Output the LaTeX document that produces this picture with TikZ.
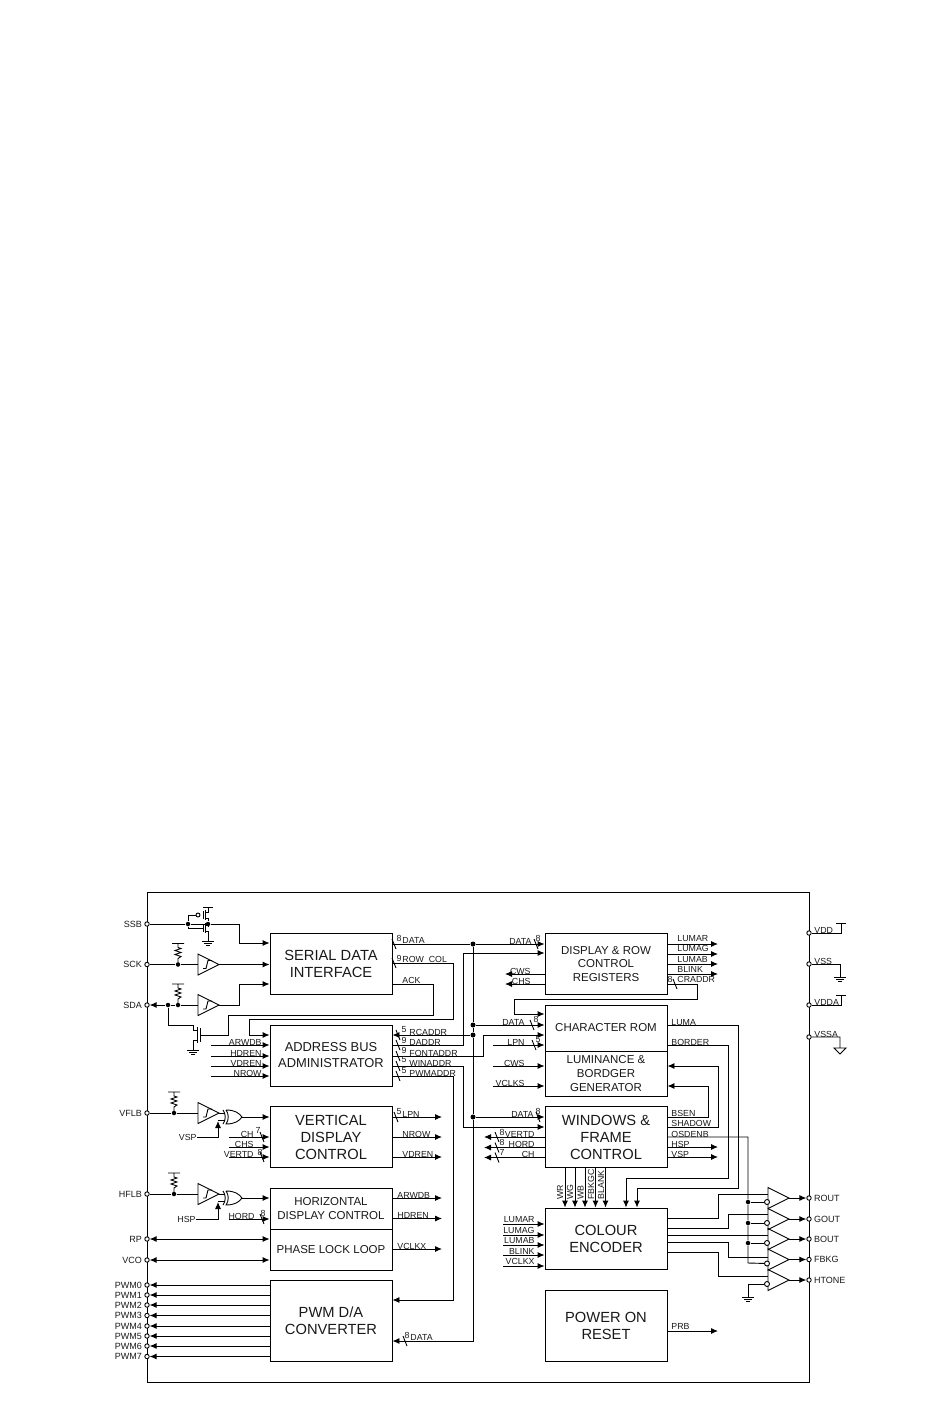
\documentclass[tikz,border=0pt]{standalone}
\usepackage{fontspec}
\setmainfont{Liberation Sans}
\usetikzlibrary{arrows.meta,positioning}

\newcommand\pullup[2]{% x, y of the dot
  \draw (#1-6,#2-21) -- (#1+6,#2-21) (#1,#2-21) -- (#1,#2-17) -- (#1+3,#2-16) -- (#1-3,#2-14)
    -- (#1+3,#2-12) -- (#1-3,#2-10) -- (#1+3,#2-8) -- (#1,#2-6) -- (#1,#2);}
\newcommand\schmitt[1]{% y of the tip, x fixed
  \draw (198,#1-10.5) -- (198,#1+10.5) -- (219,#1) -- cycle;
  \draw (203,#1+4) -- (206,#1+4) -- (208,#1-4) -- (212,#1-4);}
\newcommand\xorgate[1]{% y of the output
  \draw (226,#1-7) .. controls (235,#1-7) and (239,#1-4) .. (242,#1) .. controls (239,#1+4) and (235,#1+7) .. (226,#1+7)
    .. controls (229,#1+3) and (229,#1-3) .. (226,#1-7);
  \draw (223,#1-7) .. controls (226,#1-3) and (226,#1+3) .. (223,#1+7);}
\newcommand\earth[2]{% x, y of the top bar
  \draw (#1-6,#2) -- (#1+6,#2) (#1-4,#2+2) -- (#1+4,#2+2) (#1-2,#2+4) -- (#1+2,#2+4);}
\newcommand\busmark[2]{\draw (#1-2,#2-5) -- (#1+2,#2+5);}

\begin{document}
\begin{tikzpicture}[
          x=1pt, y=-1pt,
          line width=0.9pt,
          every node/.style={inner sep=0pt, text=black!90},
          block/.style={draw, line width=0.9pt, align=center, minimum width=122pt},
          bigtext/.style={font=\fontsize{14.7}{17}\selectfont},
          midtext/.style={font=\fontsize{11.5}{13.6}\selectfont},
          port/.style={draw, circle, fill=white, minimum size=4.4pt, line width=0.9pt},
          dot/.style={fill=black, circle, minimum size=5pt},
          pintag/.style={font=\fontsize{9}{9}\selectfont},
          tagl/.style={font=\fontsize{8.8}{9}\selectfont, anchor=base west},
          tagr/.style={font=\fontsize{8.8}{9}\selectfont, anchor=base east},
          tagv/.style={font=\fontsize{8.8}{9}\selectfont, rotate=90, anchor=base west},
          numtag/.style={font=\fontsize{8.8}{9}\selectfont, anchor=center},
          >={Latex[length=7pt,width=6pt]},
        ]
        \useasboundingbox (0,0) rectangle (950,1420) ;
        \draw[line width=0.9pt] (147,892) rectangle (809,1382) ;

        % blocks
        \node[block, bigtext, minimum height=61pt] at (331,964) (serial) {SERIAL DATA\\INTERFACE} ;
        \node[block, font=\fontsize{12.9}{16}\selectfont, minimum height=61pt] at (331,1055.5) (address) {ADDRESS BUS\\ADMINISTRATOR} ;
        \node[block, bigtext, minimum height=61pt] at (331,1137) (vertical) {VERTICAL\\DISPLAY\\CONTROL} ;
        \node[block, midtext, minimum height=41pt] at (331,1208.5) (horizontal) {HORIZONTAL\\DISPLAY CONTROL} ;
        \node[block, midtext, minimum height=41pt] at (331,1249.5) (pll) {PHASE LOCK LOOP} ;
        \node[block, bigtext, minimum height=81pt] at (331,1320.5) (pwm) {PWM D/A\\CONVERTER} ;
        \node[block, midtext, minimum height=61pt] at (606,964) (regs) {DISPLAY \& ROW\\CONTROL\\REGISTERS} ;
        \node[block, midtext, minimum height=46pt] at (606,1028) (rom) {CHARACTER ROM} ;
        \node[block, midtext, minimum height=45pt] at (606,1073.5) (lum) {LUMINANCE \&\\BORDGER\\GENERATOR} ;
        \node[block, bigtext, minimum height=61pt] at (606,1137) (windows) {WINDOWS \&\\FRAME\\CONTROL} ;
        \node[block, bigtext, minimum height=61pt] at (606,1238.5) (colour) {COLOUR\\ENCODER} ;
        \node[block, bigtext, minimum height=71pt] at (606,1325.5) (reset) {POWER ON\\RESET} ;

        % left pins
        \foreach \n/\t/\y in {ssb/SSB/924,sck/SCK/964.5,sda/SDA/1005,vflb/VFLB/1113,hflb/HFLB/1194,rp/RP/1239,vco/VCO/1260,
            pwmz/PWM0/1285,pwma/PWM1/1295,pwmb/PWM2/1305,pwmc/PWM3/1315.5,pwmd/PWM4/1326,pwme/PWM5/1336,pwmf/PWM6/1346,pwmg/PWM7/1356.5} {
          \node[port] at (147,\y) (\n) {} ;
          \node[pintag, left=2pt of \n] (\n-t) {\t} ;
        }
        % right pins
        \foreach \n/\t/\y in {rout/ROUT/1198,gout/GOUT/1219,bout/BOUT/1239,fbkg/FBKG/1259.5,htone/HTONE/1280} {
          \node[port] at (809,\y) (\n) {} ;
          \node[pintag, right=2pt of \n] (\n-t) {\t} ;
        }
        \foreach \n/\y in {vdd/933,vss/964,vdda/1005,vssa/1037} {
          \node[port] at (809,\y) (\n) {} ;
        }
        \foreach \n/\t/\y in {vdd-t/VDD/933,vss-t/VSS/964,vdda-t/VDDA/1005,vssa-t/VSSA/1037} {
          \node[tagl] at (814,\y) (\n) {\t} ;
        }
        \draw (vdd) -- (841,933) -- (841,923) (836,923) -- (846,923) ;
        \draw (vss) -- (840,964) -- (840,977) ; \earth{840}{977}
        \draw (vdda) -- (841,1005) -- (841,995) (836,995) -- (846,995) ;
        \draw (vssa) -- (840,1037) -- (840,1048) (834,1048) -- (846,1048) -- (840,1054) -- cycle ;

        % SSB switch
        \node[dot, minimum size=4.5pt] at (188,924) (ssba) {} ;
        \node[dot, minimum size=4.5pt] at (208,924) (ssbb) {} ;
        \draw (ssb) -- (ssba) -- (ssbb) -- (239,924) -- (239,943) ;
        \draw[->] (239,943) -- (serial.west |- 0,943) ;
        \node[port, minimum size=4pt] at (198,915) (ssbc) {} ;
        \draw (ssba) -- (188,915) -- (ssbc) (203,911) -- (203,919) (205.5,910) -- (205.5,920) ;
        \draw (203,907) -- (213,907) (208,907) -- (208,912) -- (205.5,912) (205.5,918) -- (208,918) -- (ssbb) ;
        \draw (ssba) -- (188,928) -- (203,928) (203,924) -- (203,932) (205.5,923) -- (205.5,933) ;
        \draw (ssbb) -- (208,925) -- (205.5,925) (205.5,931) -- (208,931) -- (208,941) ; \earth{208}{941}

        % SCK and SDA
        \node[dot, minimum size=4.5pt] at (178,964.5) (scka) {} ;
        \pullup{178}{964.5} \schmitt{964.5}
        \draw (sck) -- (scka) -- (198,964.5) ;
        \draw[->] (219,964.5) -- (serial.west |- 0,964.5) ;
        \node[dot, minimum size=4.5pt] at (168,1005) (sdaa) {} ;
        \node[dot, minimum size=4.5pt] at (178,1005) (sdab) {} ;
        \pullup{178}{1005} \schmitt{1005}
        \draw[->] (sdaa) -- (sda) ;
        \draw (sdaa) -- (sdab) -- (198,1005) ;
        \draw[->] (219,1005) -- (239,1005) -- (239,984) -- (serial.west |- 0,984) ;
        \draw (sdaa) -- (168,1025) -- (193,1025) -- (193,1030) -- (197,1030) (197,1027) -- (197,1043)
              (197,1040) -- (193,1040) -- (193,1050) (200,1028) -- (200,1042) ;
        \earth{193}{1050}
        \draw (200,1035) -- (228,1035) -- (228,1015) -- (433,1015) -- (433,984) -- (serial.east |- 0,984) ;
        \draw[->] (serial.east |- 0,963) -- (453,963) -- (453,1019) -- (249,1019) -- (249,1035) -- (address.west |- 0,1035) ;

        % VFLB and HFLB
        \foreach \n/\y/\yo in {vflb/1113/1117,hflb/1194/1198} {
          \node[dot, minimum size=4.5pt] at (174,\y) (\n-a) {} ;
          \pullup{174}{\y} \schmitt{\y} \xorgate{\yo}
          \draw (\n) -- (\n-a) -- (198,\y) (219,\y) -- (225,\y) (225,\yo+3.5) -- (218,\yo+3.5) ;
          \draw[->] (242,\yo) -- (vertical.west |- 0,\yo) ;
        }
        \node[tagr, anchor=east] at (197,1137) (vsp-t) {VSP} ;
        \node[tagr, anchor=east] at (196,1219) (hsp-t) {HSP} ;
        \draw[->] (vsp-t) -- (218,1137) -- (218,1121) ;
        \draw[->] (hsp-t) -- (218,1219) -- (218,1202) ;

        % stubs going into blocks from the left
        \foreach \n/\t/\b/\xa/\xt/\y/\yt in {
            arw/ARWDB/address/211/262/1045/1045, hdr/HDREN/address/211/262/1056/1056, vdr/VDREN/address/211/262/1066/1066, nrw/NROW/address/211/262/1076/1076,
            chv/CH/vertical/229/254/1137/1137, chs/CHS/vertical/229/254/1147/1147, vtd/VERTD/vertical/229/254/1157/1157,
            hrd/HORD/horizontal/229/255/1219/1219,
            lpnb/LPN/rom/493/525/1045/1045, cwsb/CWS/lum/493/525/1066/1066, vcl/VCLKS/lum/493/525/1086/1086,
            lmr/LUMAR/colour/503/535/1224/1222.5, lmg/LUMAG/colour/503/535/1235/1233.5, lmb/LUMAB/colour/503/535/1245/1243.5,
            blk/BLINK/colour/503/535/1255/1254, vcx/VCLKX/colour/503/535/1266/1264.5} {
          \coordinate (\n-s) at (\xa,\y) ;
          \node[tagr] at (\xt,\yt) (\n-t) {\t} ;
          \draw[->] (\n-s) -- (\b.west |- 0,\y) ;
        }

        % stubs coming out of blocks to the right
        \foreach \n/\t/\b/\xt/\xe/\y/\yt in {
            lpnv/LPN/vertical/402/442/1117/1117, nrv/NROW/vertical/402/442/1137/1137, vdv/VDREN/vertical/402/442/1157/1157,
            arv/ARWDB/horizontal/397/442/1198/1198, hdv/HDREN/horizontal/397/442/1218.5/1218.5, vkv/VCLKX/pll/397/442/1249/1249,
            lur/LUMAR/regs/677/718/944/941.5, lug/LUMAG/regs/677/718/954/951.5, lub/LUMAB/regs/677/718/964/962, bln/BLINK/regs/677/718/974/972,
            hsw/HSP/windows/671/718/1147/1147, vsw/VSP/windows/671/718/1157/1157, prb/PRB/reset/671/718/1331/1329} {
          \coordinate (\n-e) at (\xe,\y) ;
          \node[tagl] at (\xt,\yt) (\n-t) {\t} ;
          \draw[->] (\b.east |- 0,\y) -- (\n-e) ;
        }

        % stubs coming out of blocks to the left
        \foreach \n/\t/\b/\xt/\xe/\y in {
            cwr/CWS/regs/531/505/974, chr/CHS/regs/531/505/984,
            vtw/VERTD/windows/535/484/1137, hrw/HORD/windows/535/484/1147.5, chw/CH/windows/535/484/1157.5} {
          \coordinate (\n-e) at (\xe,\y) ;
          \node[tagr] at (\xt,\y) (\n-t) {\t} ;
          \draw[->] (\b.west |- 0,\y) -- (\n-e) ;
        }

        % RP, VCO and PWM pins
        \foreach \n/\b/\y in {rp/pll/1239,vco/pll/1260} {
          \draw[<->] (\n) -- (\b.west |- 0,\y) ;
        }
        \foreach \n/\y in {pwmz/1285,pwma/1295,pwmb/1305,pwmc/1315.5,pwmd/1326,pwme/1336,pwmf/1346,pwmg/1356.5} {
          \draw[->] (pwm.west |- 0,\y) -- (\n) ;
        }

        % data bus
        \foreach \n/\y in {ja/944,jb/1025,jc/1035,jd/1117} {
          \node[dot] at (473,\y) (\n) {} ;
        }
        \draw[->] (serial.east |- 0,944) -- (ja) -- (regs.west |- 0,944) ;
        \draw[->] (ja) -- (jb) -- (jc) -- (jd) -- (473,1341) -- (pwm.east |- 0,1341) ;
        \draw[->] (jb) -- (rom.west |- 0,1025) ;
        \draw[->] (jd) -- (windows.west |- 0,1117) ;
        \draw[<-] (address.east |- 0,1035) -- (jc) ;
        \draw[->] (address.east |- 0,1045) -- (463,1045) -- (463,953) -- (regs.west |- 0,953) ;
        \draw[->] (address.east |- 0,1056) -- (483,1056) -- (483,1035) -- (rom.west |- 0,1035) ;
        \draw[->] (address.east |- 0,1066) -- (463,1066) -- (463,1127) -- (windows.west |- 0,1127) ;
        \draw[->] (address.east |- 0,1076) -- (453,1076) -- (453,1300) -- (pwm.east |- 0,1300) ;

        % right hand feedback wires
        \draw[->] (regs.east |- 0,984) -- (697,984) -- (697,999) -- (514,999) -- (514,1014) -- (rom.west |- 0,1014) ;
        \draw[->] (rom.east |- 0,1025) -- (738,1025) -- (738,1188) -- (637,1188) -- (colour.north -| 637,0) ;
        \draw[->] (rom.east |- 0,1045) -- (728,1045) -- (728,1178) -- (626,1178) -- (colour.north -| 626,0) ;
        \draw[->] (windows.east |- 0,1117) -- (708,1117) -- (708,1086) -- (lum.east |- 0,1086) ;
        \draw[->] (windows.east |- 0,1127) -- (718,1127) -- (718,1066) -- (lum.east |- 0,1066) ;

        % windows to colour encoder
        \foreach \n/\t/\x/\xt in {wr/WR/565/563,wg/WG/575/573,wb/WB/585/583.5,fb/FBKGC/595.5/594,bl/BLANK/605.5/604} {
          \node[tagv] at (\xt,1200) (\n-t) {\t} ;
          \draw[->] (windows.south -| \x,0) -- (colour.north -| \x,0) ;
        }

        % output buffers
        \foreach \n/\m/\y in {ba/rout/1198,bb/gout/1219,bc/bout/1239,bd/fbkg/1259.5,be/htone/1280} {
          \coordinate (\n) at (768,\y) ;
          \draw (768,\y-10.5) -- (768,\y+10.5) -- (789,\y) -- cycle ;
          \node[port, minimum size=5pt] at (767,\y+4) (\n-c) {} ;
          \draw[->] (789,\y) -- (\m) ;
        }
        \foreach \n/\y in {da/1202,db/1223,dc/1243} {
          \node[dot, minimum size=4.5pt] at (748,\y) (\n) {} ;
        }
        \draw (windows.east |- 0,1137) -- (748,1137) -- (da) -- (db) -- (dc) -- (748,1263) -- (bd-c) ;
        \draw (da) -- (ba-c) (db) -- (bb-c) (dc) -- (bc-c) ;
        \draw (be-c) -- (748,1284) -- (748,1297) ; \earth{748}{1297}
        \draw (colour.east |- 0,1218) -- (718,1218) -- (718,1194) -- (768,1194) ;
        \draw (colour.east |- 0,1228) -- (728,1228) -- (728,1214) -- (768,1214) ;
        \draw (colour.east |- 0,1235) -- (768,1235) ;
        \draw (colour.east |- 0,1242) -- (728,1242) -- (728,1257) -- (768,1257) ;
        \draw (colour.east |- 0,1252) -- (718,1252) -- (718,1276) -- (768,1276) ;

        % free labels
        \foreach \n/\t/\x/\y in {
            tdata/DATA/402/943, trow/ROW\_COL/402/962, tack/ACK/402/983,
            trc/RCADDR/409/1035, tda/DADDR/409/1045, tfo/FONTADDR/409/1056, twi/WINADDR/409/1066, tpw/PWMADDR/409/1076,
            tcr/CRADDR/677/982.5, tlu/LUMA/671/1025, tbo/BORDER/671/1045,
            tbs/BSEN/671/1116, tsh/SHADOW/671/1126.5, tos/OSDENB/671/1137, tpd/DATA/410/1340} {
          \node[tagl] at (\x,\y) (\n) {\t} ;
        }
        \foreach \n/\t/\x/\y in {rd/DATA/532/944, md/DATA/525/1025, wd/DATA/534/1117} {
          \node[tagr] at (\x,\y) (\n) {\t} ;
        }

        % bus widths
        \foreach \n/\t/\x/\y in {
            na/8/399/938, nb/9/399/958, nc/5/404/1030, nd/9/404/1040, ne/9/404/1050, nf/5/404/1060, ng/5/404/1071,
            ni/5/399/1112, nj/7/258/1130, nk/8/260/1152, nl/8/263/1213, nm/8/407/1335,
            nn/8/538/938, no/8/536/1019, np/5/538/1040, nq/8/538/1111, nr/8/502/1132, ns/8/502/1142, nt/7/502/1152, nu/8/670/979} {
          \node[numtag] at (\x,\y) (\n) {\t} ;
        }
        \foreach \x/\y in {394/944,394/963,398/1035,398/1045,398/1056,398/1066,398/1076,396/1117,262/1137,262/1157,262/1219,405/1341,
            536/944,532/1025,534/1045,538/1117,497/1137,497/1147.5,497/1157.5,675/984} {
          \busmark{\x}{\y}
        }
        \end{tikzpicture}
\end{document}
